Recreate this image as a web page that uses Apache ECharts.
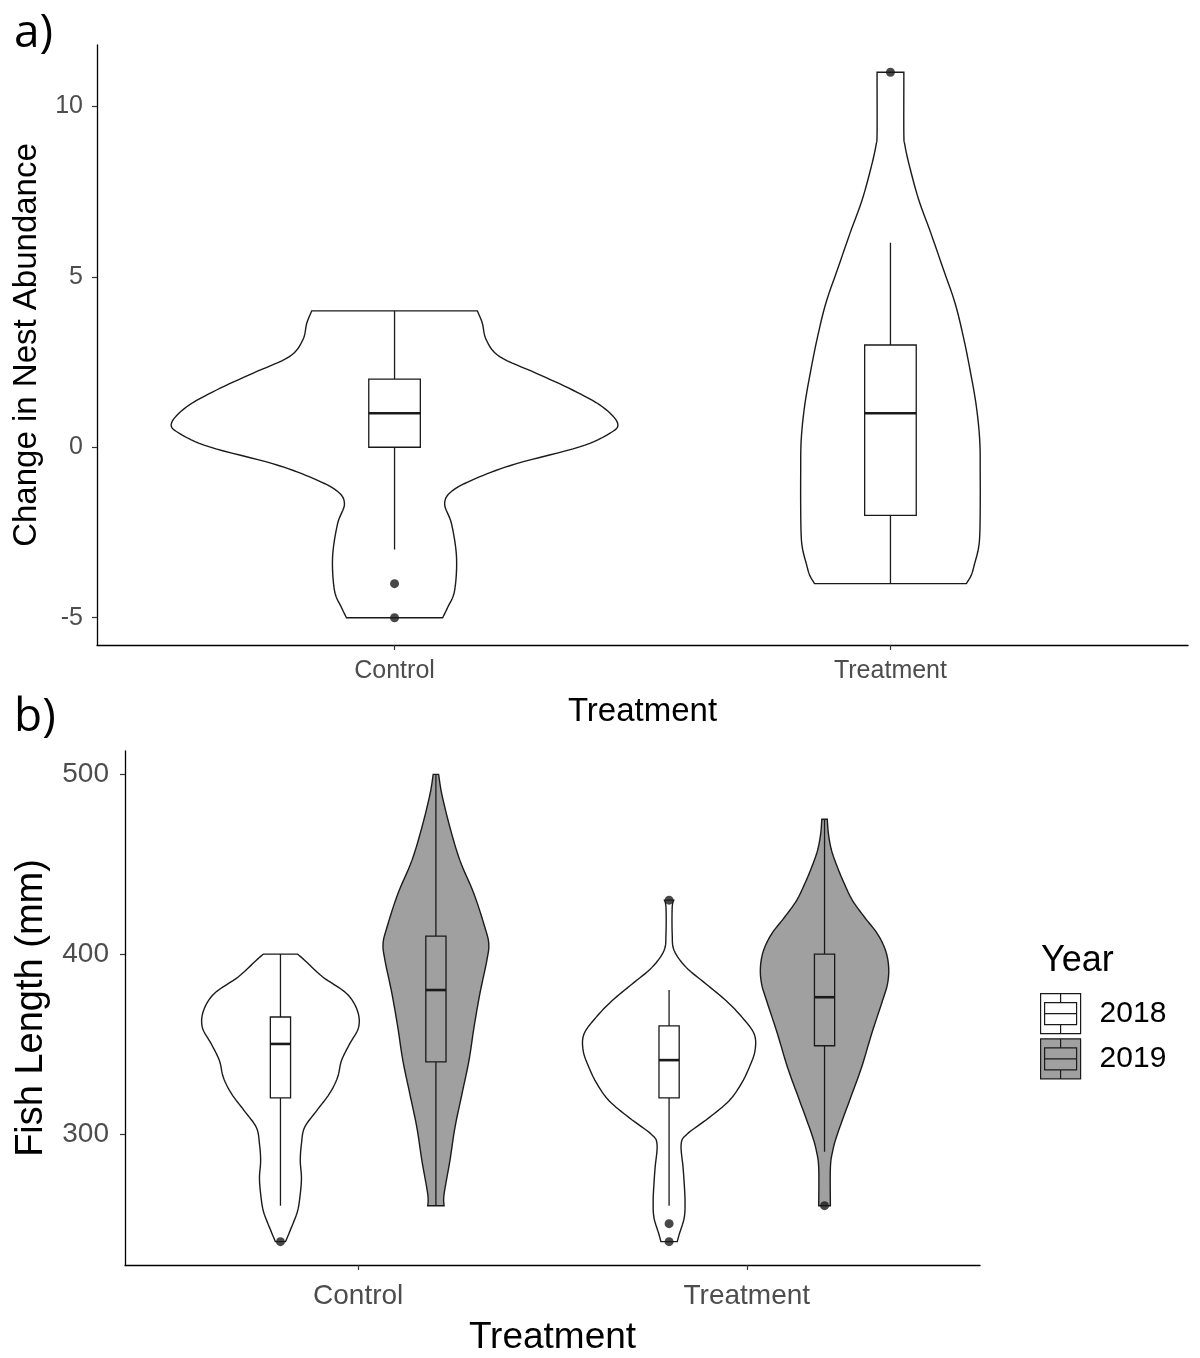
<!DOCTYPE html>
<html><head><meta charset="utf-8">
<script src="https://cdn.jsdelivr.net/npm/echarts@6/dist/echarts.min.js"></script>
<style>html,body{margin:0;padding:0;background:#fff}#c{width:1200px;height:1358px}</style>
</head><body><div id="c"></div>
<script>
// ---------- categories / ticks ----------
const treatments = ['Control', 'Treatment'];
const years = ['2018', '2019'];
const nestTicks = [-5, 0, 5, 10];
const lengthTicks = [300, 400, 500];

// ---------- panel a: change in nest abundance ----------
// violin outlines: y levels and half-widths (x-axis units)
const nestCtrlY = [-5.0, -4.7, -4.21, -3.23, -2.25, -1.66, -1.27, -0.87, -0.48, 0.01, 0.4, 0.7, 1.19, 1.68, 2.17, 2.66, 3.15, 3.64, 4.0];
const nestCtrlW = [0.097, 0.107, 0.121, 0.125, 0.115, 0.101, 0.117, 0.171, 0.246, 0.373, 0.433, 0.450, 0.419, 0.359, 0.286, 0.212, 0.185, 0.177, 0.167];
const nestTrtY = [-4.0, -3.75, -3.4, -3.0, -2.6, -1.8, -0.79, 0.21, 1.22, 2.23, 3.24, 4.24, 5.25, 6.26, 7.26, 8.27, 8.87, 9.2, 10.7, 11.0];
const nestTrtW = [0.153, 0.163, 0.170, 0.177, 0.180, 0.181, 0.181, 0.180, 0.173, 0.161, 0.147, 0.130, 0.106, 0.082, 0.057, 0.038, 0.029, 0.027, 0.027, 0.027];
// box stats: [low whisker, Q1, median, Q3, high whisker]
const nestCtrlBox = [-3, 0, 1, 2, 4];
const nestTrtBox = [-4, -2, 1, 3, 6];
const nestCtrlOutliers = [-4, -5];
const nestTrtOutliers = [11];

// ---------- panel b: fish length ----------
const lenCtrl18Y = [240, 247.8, 257, 266.6, 275.7, 285, 294.4, 303.5, 312.8, 322.3, 331.4, 340.7, 350, 359.2, 368.5, 378.1, 387.4, 396.6, 400];
const lenCtrl18W = [0.013, 0.028, 0.044, 0.051, 0.054, 0.051, 0.054, 0.062, 0.093, 0.126, 0.147, 0.157, 0.178, 0.201, 0.198, 0.170, 0.108, 0.062, 0.044];
const lenCtrl19Y = [260, 266.4, 285, 303.5, 322.1, 340.7, 359.2, 377.8, 396.4, 405.7, 414.9, 433.5, 452, 470.6, 489.2, 500];
const lenCtrl19W = [0.021, 0.021, 0.036, 0.049, 0.067, 0.085, 0.098, 0.113, 0.131, 0.136, 0.126, 0.098, 0.062, 0.036, 0.015, 0.007];
const lenTrt18Y = [240, 244, 253.4, 262.7, 272, 281.2, 294.2, 299.8, 309, 318.3, 327.6, 336.8, 346.2, 355.5, 364.8, 374, 383.4, 392.6, 402, 411.3, 426, 430];
const lenTrt18W = [0.021, 0.026, 0.039, 0.041, 0.039, 0.036, 0.031, 0.046, 0.103, 0.154, 0.185, 0.206, 0.221, 0.219, 0.188, 0.147, 0.095, 0.044, 0.013, 0.008, 0.008, 0.012];
const lenTrt19Y = [260, 281, 290.5, 299.8, 318.3, 336.8, 355.5, 374, 383.4, 392.6, 402, 411.3, 420.5, 429.8, 439.1, 448.4, 457.7, 466.9, 475];
const lenTrt19W = [0.015, 0.015, 0.021, 0.033, 0.064, 0.095, 0.121, 0.149, 0.162, 0.165, 0.157, 0.136, 0.103, 0.072, 0.051, 0.033, 0.018, 0.010, 0.007];
const lenCtrl18Box = [260, 320, 350, 365, 400];
const lenCtrl19Box = [260, 340, 380, 410, 500];
const lenTrt18Box = [260, 320, 341, 360, 380];
const lenTrt19Box = [290, 349, 376, 400, 475];
const lenCtrl18Out = [240];
const lenCtrl19Out = [];
const lenTrt18Out = [430, 250, 240];
const lenTrt19Out = [260];

// ---------- styling constants ----------
const FONT = '"Liberation Sans", Arial, sans-serif';
const INK = '#1a1a1a';
const TICK_GREY = '#4d4d4d';
const GREY_FILL = '#a0a0a0';
const DODGE = 0.2;

// ---------- helpers ----------
function catmull(pts, steps) {
  const out = [];
  const n = pts.length;
  for (let i = 0; i < n - 1; i++) {
    const p0 = pts[Math.max(i - 1, 0)], p1 = pts[i], p2 = pts[i + 1], p3 = pts[Math.min(i + 2, n - 1)];
    for (let s = 0; s < steps; s++) {
      const t = s / steps, t2 = t * t, t3 = t2 * t;
      const f = k => 0.5 * (2 * p1[k] + (-p0[k] + p2[k]) * t + (2 * p0[k] - 5 * p1[k] + 4 * p2[k] - p3[k]) * t2 + (-p0[k] + 3 * p1[k] - 3 * p2[k] + p3[k]) * t3);
      out.push([f(0), f(1)]);
    }
  }
  out.push(pts[n - 1]);
  return out;
}

function violinRenderer(profiles, fill) {
  return function (params, api) {
    const cx = api.value(0);
    const prof = profiles[api.value(1)];
    const left = prof.y.map((y, i) => api.coord([cx - prof.w[i], y]));
    const right = prof.y.map((y, i) => api.coord([cx + prof.w[i], y]));
    const l = catmull(left, 8);
    const r = catmull(right, 8).reverse();
    const pts = l.concat(r);
    return {
      type: 'polygon',
      shape: { points: pts },
      style: { fill: fill, stroke: INK, lineWidth: 1.4 }
    };
  };
}

function boxRenderer(halfW, fill, boxes) {
  return function (params, api) {
    const x = api.value(0);
    const b = boxes[api.value(1)];
    const lo = api.coord([x, b[0]]), q1 = api.coord([x, b[1]]), md = api.coord([x, b[2]]), q3 = api.coord([x, b[3]]), hi = api.coord([x, b[4]]);
    const xl = api.coord([x - halfW, b[2]])[0], xr = api.coord([x + halfW, b[2]])[0];
    return {
      type: 'group',
      children: [
        { type: 'line', shape: { x1: lo[0], y1: lo[1], x2: q1[0], y2: q1[1] }, style: { stroke: INK, lineWidth: 1.3 } },
        { type: 'line', shape: { x1: q3[0], y1: q3[1], x2: hi[0], y2: hi[1] }, style: { stroke: INK, lineWidth: 1.3 } },
        { type: 'rect', shape: { x: xl, y: q3[1], width: xr - xl, height: q1[1] - q3[1] }, style: { fill: fill, stroke: INK, lineWidth: 1.3 } },
        { type: 'line', shape: { x1: xl, y1: md[1], x2: xr, y2: md[1] }, style: { stroke: INK, lineWidth: 2.6 } }
      ]
    };
  };
}

const nestProfiles = [{ y: nestCtrlY, w: nestCtrlW }, { y: nestTrtY, w: nestTrtW }];
const nestBoxes = [nestCtrlBox, nestTrtBox];
const len18Profiles = [{ y: lenCtrl18Y, w: lenCtrl18W }, { y: lenTrt18Y, w: lenTrt18W }];
const len19Profiles = [{ y: lenCtrl19Y, w: lenCtrl19W }, { y: lenTrt19Y, w: lenTrt19W }];
const len18Boxes = [lenCtrl18Box, lenTrt18Box];
const len19Boxes = [lenCtrl19Box, lenTrt19Box];

const nestOutPts = nestCtrlOutliers.map(v => [1, v]).concat(nestTrtOutliers.map(v => [2, v]));
const lenOutPts = lenCtrl18Out.map(v => [1 - DODGE, v])
  .concat(lenCtrl19Out.map(v => [1 + DODGE, v]))
  .concat(lenTrt18Out.map(v => [2 - DODGE, v]))
  .concat(lenTrt19Out.map(v => [2 + DODGE, v]));

function xAxisCfg(gridIndex, fs, margin, nameFs, nameGap) {
  return {
    type: 'value', gridIndex, min: 0.4, max: 2.6,
    name: 'Treatment', nameLocation: 'middle', nameGap,
    nameTextStyle: { fontSize: nameFs, color: '#000', fontFamily: FONT },
    axisLine: { show: true, onZero: false, lineStyle: { color: '#000', width: 1.3 } },
    axisTick: { show: true, customValues: [1, 2], length: 5, lineStyle: { color: '#333', width: 1.2 } },
    axisLabel: { customValues: [1, 2], formatter: v => treatments[Math.round(v) - 1], fontSize: fs, color: TICK_GREY, fontFamily: FONT, margin },
    splitLine: { show: false }
  };
}
function yAxisCfg(gridIndex, min, max, ticks, name, fs, margin, nameFs, nameGap) {
  return {
    type: 'value', gridIndex, min, max,
    name, nameLocation: 'middle', nameGap,
    nameTextStyle: { fontSize: nameFs, color: '#000', fontFamily: FONT },
    axisLine: { show: true, onZero: false, lineStyle: { color: '#000', width: 1.3 } },
    axisTick: { show: true, customValues: ticks, length: 5, lineStyle: { color: '#333', width: 1.2 } },
    axisLabel: { customValues: ticks, fontSize: fs, color: TICK_GREY, fontFamily: FONT, margin },
    splitLine: { show: false }
  };
}

const keyPath = 'path://M0,0H40V40H0Z M20,0V9 M4,9H36V31H4Z M4,20H36 M20,31V40';

const option = {
  backgroundColor: '#fff',
  animation: false,
  title: [
    { text: 'a)', left: 9, top: 6, textStyle: { fontSize: 46, fontWeight: 'normal', color: '#000', fontFamily: '"Open Sans", sans-serif' } },
    { text: 'b)', left: 9, top: 690, textStyle: { fontSize: 46, fontWeight: 'normal', color: '#000', fontFamily: '"Open Sans", sans-serif' } },
    { text: 'Year', left: 1036, top: 938, textStyle: { fontSize: 36, fontWeight: 'normal', color: '#000', fontFamily: FONT } }
  ],
  legend: {
    orient: 'vertical', left: 1040, top: 993, itemWidth: 40, itemHeight: 40, itemGap: 4,
    selectedMode: false, padding: 0,
    textStyle: { fontSize: 30, color: '#000', fontFamily: FONT, padding: [0, 0, 0, 14] },
    data: [
      { name: '2018', icon: keyPath, itemStyle: { color: '#fff', borderColor: INK, borderWidth: 1.2 } },
      { name: '2019', icon: keyPath, itemStyle: { color: GREY_FILL, borderColor: INK, borderWidth: 1.2 } }
    ]
  },
  grid: [
    { left: 97, right: 12, top: 45, bottom: 713, containLabel: false },
    { left: 125, right: 220, top: 751, bottom: 93, containLabel: false }
  ],
  xAxis: [xAxisCfg(0, 25, 14, 33, 50), xAxisCfg(1, 28, 17, 37, 54)],
  yAxis: [
    yAxisCfg(0, -5.8, 11.8, nestTicks, 'Change in Nest Abundance', 25, 14, 33, 54),
    yAxisCfg(1, 227, 513, lengthTicks, 'Fish Length (mm)', 28, 16, 38, 74)
  ],
  series: [
    { type: 'custom', name: 'nest violins', xAxisIndex: 0, yAxisIndex: 0, z: 1, silent: true,
      renderItem: violinRenderer(nestProfiles, '#fff'), data: [[1, 0], [2, 1]] },
    { type: 'custom', name: 'nest boxes', xAxisIndex: 0, yAxisIndex: 0, z: 2, silent: true,
      renderItem: boxRenderer(0.052, '#fff', nestBoxes), data: [[1, 0], [2, 1]] },
    { type: 'scatter', name: 'nest outliers', xAxisIndex: 0, yAxisIndex: 0, z: 3, silent: true,
      symbolSize: 9, itemStyle: { color: INK }, data: nestOutPts },

    { type: 'custom', name: '2018', xAxisIndex: 1, yAxisIndex: 1, z: 1, silent: true,
      itemStyle: { color: '#fff' },
      renderItem: violinRenderer(len18Profiles, '#fff'), data: [[1 - DODGE, 0], [2 - DODGE, 1]] },
    { type: 'custom', name: '2019', xAxisIndex: 1, yAxisIndex: 1, z: 1, silent: true,
      itemStyle: { color: GREY_FILL },
      renderItem: violinRenderer(len19Profiles, GREY_FILL), data: [[1 + DODGE, 0], [2 + DODGE, 1]] },
    { type: 'custom', name: 'box 2018', xAxisIndex: 1, yAxisIndex: 1, z: 2, silent: true,
      renderItem: boxRenderer(0.026, '#fff', len18Boxes), data: [[1 - DODGE, 0], [2 - DODGE, 1]] },
    { type: 'custom', name: 'box 2019', xAxisIndex: 1, yAxisIndex: 1, z: 2, silent: true,
      renderItem: boxRenderer(0.026, GREY_FILL, len19Boxes), data: [[1 + DODGE, 0], [2 + DODGE, 1]] },
    { type: 'scatter', name: 'length outliers', xAxisIndex: 1, yAxisIndex: 1, z: 3, silent: true,
      symbolSize: 9, itemStyle: { color: INK }, data: lenOutPts }
  ]
};

const chart = echarts.init(document.getElementById('c'), null, { renderer: 'canvas' });
chart.setOption(option);
</script>
</body></html>
